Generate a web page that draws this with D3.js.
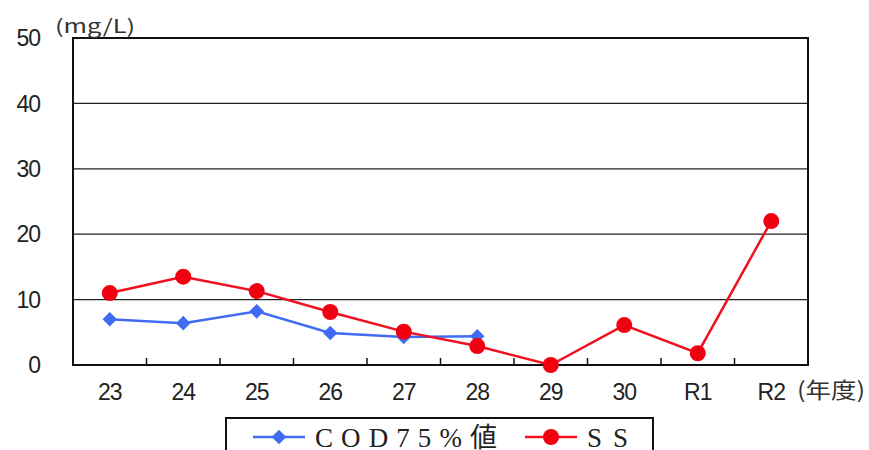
<!DOCTYPE html>
<html>
<head>
<meta charset="utf-8">
<style>
  body { margin: 0; background: #fff; }
  .num { font-family: "Liberation Sans", Arial, sans-serif; font-size: 23px; fill: #222; }
  .unit { font-family: "Noto Sans CJK JP", sans-serif; font-size: 19px; fill: #333; }
  .leg { font-family: "Liberation Serif", "Noto Sans CJK JP", serif; font-size: 27px; fill: #222; }
</style>
</head>
<body>
<svg id="chart" width="869" height="450"></svg>
<script src="https://cdnjs.cloudflare.com/ajax/libs/d3/7.8.5/d3.min.js"></script>
<script>
// data
var years = ["23", "24", "25", "26", "27", "28", "29", "30", "R1", "R2"];
var codValues = [7.0, 6.4, 8.2, 4.9, 4.3, 4.4, null, null, null, null];
var ssValues = [11.0, 13.5, 11.3, 8.1, 5.1, 2.9, 0, 6.1, 1.8, 22.0];
var yTicks = [0, 10, 20, 30, 40, 50];

var svg = d3.select("#chart");
var margin = {top: 38, right: 61, bottom: 85, left: 73},
    width = 869 - margin.left - margin.right,
    height = 450 - margin.top - margin.bottom;

var g = svg.append("g").attr("transform", "translate(" + margin.left + "," + margin.top + ")");

var x = d3.scaleBand().domain(years).range([0, width]);
var y = d3.scaleLinear().domain([0, 50]).range([height, 0]);

// grid lines
g.selectAll("line.grid")
  .data(yTicks.filter(function(d) { return d > 0 && d < 50; }))
  .enter().append("line")
    .attr("x1", 0).attr("x2", width)
    .attr("y1", function(d) { return y(d); })
    .attr("y2", function(d) { return y(d); })
    .attr("stroke", "#222").attr("stroke-width", 1.2);

// frame
g.append("rect")
  .attr("width", width).attr("height", height)
  .attr("fill", "none").attr("stroke", "#111").attr("stroke-width", 2);

// category tick marks (inside, between categories)
g.selectAll("line.tick")
  .data(years.slice(1))
  .enter().append("line")
    .attr("x1", function(d) { return x(d); })
    .attr("x2", function(d) { return x(d); })
    .attr("y1", height).attr("y2", height - 7)
    .attr("stroke", "#111").attr("stroke-width", 1.5);

// y labels
g.selectAll("text.ylab")
  .data(yTicks)
  .enter().append("text")
    .attr("class", "num")
    .attr("x", -33).attr("y", function(d) { return y(d); })
    .attr("dy", "0.36em")
    .attr("text-anchor", "end")
    .style("letter-spacing", "-1px")
    .text(function(d) { return d; });

// x labels
g.selectAll("text.xlab")
  .data(years)
  .enter().append("text")
    .attr("class", "num")
    .attr("x", function(d) { return x(d) + x.bandwidth() / 2; })
    .attr("y", height + 27)
    .attr("dy", "0.36em")
    .attr("text-anchor", "middle")
    .style("letter-spacing", "-1px")
    .text(function(d) { return d; });

svg.append("text").attr("class", "unit")
  .attr("x", 55).attr("y", 33)
  .attr("textLength", 80).attr("lengthAdjust", "spacingAndGlyphs")
  .text("(mg/L)");
svg.append("text").attr("class", "unit")
  .attr("x", 797).attr("y", 398).style("font-size", "22px")
  .attr("textLength", 68).attr("lengthAdjust", "spacingAndGlyphs")
  .text("(年度)");

var cx = function(i) { return x(years[i]) + x.bandwidth() / 2; };

// COD line
var codLine = d3.line()
  .defined(function(d) { return d != null; })
  .x(function(d, i) { return cx(i); })
  .y(function(d) { return y(d); });

g.append("path").datum(codValues)
  .attr("d", codLine)
  .attr("fill", "none").attr("stroke", "#3f6cf2").attr("stroke-width", 2.5);

var diamond = d3.symbol().type(d3.symbolDiamond2).size(135);
g.selectAll("path.cod")
  .data(codValues.map(function(v, i) { return {v: v, i: i}; }).filter(function(d) { return d.v != null; }))
  .enter().append("path")
    .attr("d", diamond)
    .attr("transform", function(d) { return "translate(" + cx(d.i) + "," + y(d.v) + ")"; })
    .attr("fill", "#3f6cf2");

// SS line
var ssLine = d3.line()
  .x(function(d, i) { return cx(i); })
  .y(function(d) { return y(d); });

g.append("path").datum(ssValues)
  .attr("d", ssLine)
  .attr("fill", "none").attr("stroke", "#f01020").attr("stroke-width", 2.5);

g.selectAll("circle.ss")
  .data(ssValues)
  .enter().append("circle")
    .attr("cx", function(d, i) { return cx(i); })
    .attr("cy", function(d) { return y(d); })
    .attr("r", 8)
    .attr("fill", "#f00010");

// legend
var leg = svg.append("g");
leg.append("rect")
  .attr("x", 226).attr("y", 418).attr("width", 427).attr("height", 50)
  .attr("fill", "#fff").attr("stroke", "#111").attr("stroke-width", 2);

leg.append("line").attr("x1", 253).attr("x2", 305).attr("y1", 437).attr("y2", 437)
  .attr("stroke", "#3f6cf2").attr("stroke-width", 2.5);
leg.append("path").attr("d", diamond)
  .attr("transform", "translate(279,437)").attr("fill", "#3f6cf2");
leg.append("text").attr("class", "leg").attr("x", 315).attr("y", 447)
  .attr("textLength", 182).attr("lengthAdjust", "spacing")
  .text("COD75%値");

leg.append("line").attr("x1", 525).attr("x2", 577).attr("y1", 437).attr("y2", 437)
  .attr("stroke", "#f01020").attr("stroke-width", 2.5);
leg.append("circle").attr("cx", 551).attr("cy", 437).attr("r", 8).attr("fill", "#f00010");
leg.append("text").attr("class", "leg").attr("x", 587).attr("y", 447)
  .attr("textLength", 41).attr("lengthAdjust", "spacing")
  .text("SS");
</script>
</body>
</html>
